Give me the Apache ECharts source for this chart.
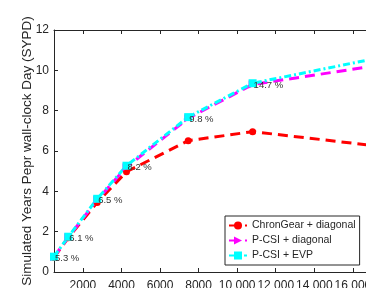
<!DOCTYPE html>
<html>
<head>
<meta charset="utf-8">
<script src="https://cdn.jsdelivr.net/npm/echarts@6/dist/echarts.min.js"></script>
<style>
html, body { margin: 0; padding: 0; background: #fff; }
#main { width: 366px; height: 288px; }
</style>
</head>
<body>
<div id="main"></div>
<script>
var cores = [500, 1240, 2740, 4260, 7460, 10800, 17500];
var chronGear = [0.72, 1.70, 3.45, 4.97, 6.51, 6.96, 6.22];
var pcsiDiag = [0.74, 1.72, 3.58, 5.20, 7.62, 9.30, 10.27];
var pcsiEvp = [0.76, 1.75, 3.63, 5.27, 7.68, 9.36, 10.65];
var evpLabels = ['5.3 %', '6.1 %', '6.5 %', '8.2 %', '9.8 %', '14.7 %', ''];
var xTicks = [2000, 4000, 6000, 8000, 10000, 12000, 14000, 16000];
var names = ['ChronGear + diagonal', 'P-CSI + diagonal', 'P-CSI + EVP'];

var font = 'Liberation Sans, Arial, Helvetica, sans-serif';
var ink = '#262626';

function pairs(ys) {
    return cores.map(function(x, i) { return [x, ys[i]]; });
}

function fmt(v) {
    return v >= 10000 ? String(v).replace(/\B(?=(\d{3})+(?!\d))/g, ' ') : String(v);
}

var chart = echarts.init(document.getElementById('main'));
var option = {
    animation: false,
    backgroundColor: '#fff',
    textStyle: { fontFamily: font },
    grid: { left: 54, top: 30, height: 242, width: 376, containLabel: false, outerBoundsMode: 'none' },
    legend: {
        orient: 'vertical',
        left: 225,
        top: 216,
        padding: [4, 4, 4, 3],
        itemGap: 4,
        itemWidth: 18,
        itemHeight: 10,
        borderColor: ink,
        borderWidth: 1,
        backgroundColor: '#fff',
        textStyle: { fontFamily: font, fontSize: 10.5, color: ink },
        data: names
    },
    xAxis: [{
        type: 'value',
        min: 500,
        max: 20000,
        axisLine: { lineStyle: { color: ink } },
        axisTick: { inside: true, length: 4, customValues: xTicks, lineStyle: { color: ink } },
        axisLabel: { customValues: xTicks, formatter: fmt, fontFamily: font, fontSize: 12, color: ink, margin: 8, hideOverlap: false },
        splitLine: { show: false }
    }, {
        type: 'value',
        position: 'top',
        min: 500,
        max: 20000,
        axisLine: { lineStyle: { color: ink } },
        axisTick: { inside: true, length: 4, customValues: xTicks, lineStyle: { color: ink } },
        axisLabel: { show: false },
        splitLine: { show: false }
    }],
    yAxis: {
        type: 'value',
        min: 0,
        max: 12,
        interval: 2,
        name: 'Simulated Years Pepr wall-clock Day (SYPD)',
        nameLocation: 'middle',
        nameRotate: 90,
        nameGap: 20,
        nameMoveOverlap: false,
        nameTextStyle: { fontFamily: font, fontSize: 13.5, color: ink },
        axisLine: { show: true, lineStyle: { color: ink } },
        axisTick: { show: true, inside: true, length: 4, lineStyle: { color: ink } },
        axisLabel: { fontFamily: font, fontSize: 12, color: ink, margin: 5 },
        splitLine: { show: false }
    },
    series: [{
        name: names[0],
        type: 'line',
        data: pairs(chronGear),
        symbol: 'circle',
        symbolSize: 7,
        color: '#ff0000',
        lineStyle: { width: 3, type: [10, 6], color: '#ff0000' },
        itemStyle: { color: '#ff0000' }
    }, {
        name: names[1],
        type: 'line',
        data: pairs(pcsiDiag),
        symbol: 'triangle',
        symbolRotate: -90,
        symbolSize: 8,
        color: '#ff00ff',
        lineStyle: { width: 3, type: [10, 6], color: '#ff00ff' },
        itemStyle: { color: '#ff00ff' }
    }, {
        name: names[2],
        type: 'line',
        data: pairs(pcsiEvp),
        symbol: 'rect',
        symbolSize: 8,
        color: '#00ffff',
        lineStyle: { width: 3, type: [7, 3, 2, 3], color: '#00ffff' },
        itemStyle: { color: '#00ffff' },
        label: {
            show: true,
            position: 'right',
            distance: -3,
            offset: [0, 2],
            fontFamily: font,
            fontSize: 9.5,
            color: '#333',
            formatter: function(p) { return evpLabels[p.dataIndex]; }
        }
    }]
};
chart.setOption(option);
</script>
</body>
</html>
